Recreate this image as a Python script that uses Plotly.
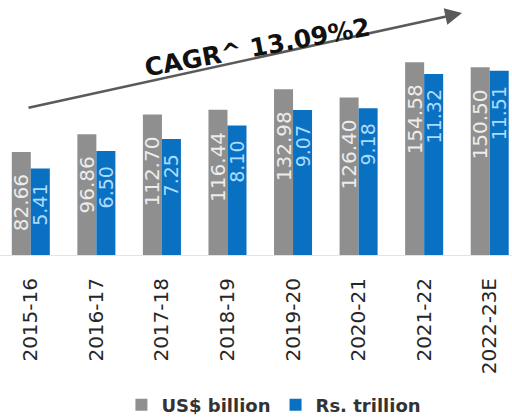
import plotly.graph_objects as go

categories = ["2015-16", "2016-17", "2017-18", "2018-19", "2019-20", "2020-21", "2021-22", "2022-23E"]
usd_billion = [82.66, 96.86, 112.70, 116.44, 132.98, 126.40, 154.58, 150.50]
rs_trillion = [5.41, 6.50, 7.25, 8.10, 9.07, 9.18, 11.32, 11.51]
cagr_text = "CAGR^ 13.09%2"

NB = "\u00a0"
gray = "#8f8f8f"
blue = "#0a70c2"

fig = go.Figure()
fig.add_trace(go.Bar(
    x=categories, y=usd_billion, name="US$ billion",
    marker=dict(color=gray, line=dict(width=0)),
    width=0.29, offset=-0.29,
    text=[f"{v:.2f}" + NB * 3 for v in usd_billion],
    textposition="inside", insidetextanchor="end", textangle=-90,
    constraintext="none",
    insidetextfont=dict(family="DejaVu Sans", size=20, color="#ececec"),
    yaxis="y", cliponaxis=False,
))
fig.add_trace(go.Bar(
    x=categories, y=rs_trillion, name="Rs. trillion",
    marker=dict(color=blue, line=dict(width=0)),
    width=0.29, offset=0.0,
    text=[f"{v:.2f}" + NB * 2 for v in rs_trillion],
    textposition="inside", insidetextanchor="end", textangle=-90,
    constraintext="none",
    insidetextfont=dict(family="DejaVu Sans", size=19, color="#a9dcff"),
    yaxis="y2", cliponaxis=False,
))

# growth arrow
fig.add_annotation(
    xref="paper", yref="paper", x=462 / 512, y=(255 - 13) / 235,
    ax=-435, ay=95, axref="pixel", ayref="pixel",
    text="", showarrow=True, arrowhead=2, arrowsize=1.3, arrowwidth=2.6,
    arrowcolor="#5a5a5a", standoff=0, startstandoff=0,
)
fig.add_annotation(
    xref="paper", yref="paper", x=257 / 512, y=(255 - 47) / 235,
    xanchor="center", yanchor="middle",
    text=f"<b>{cagr_text}</b>", showarrow=False, textangle=-10.5,
    font=dict(family="DejaVu Sans", size=25, color="#111111"),
)

fig.update_layout(
    width=512, height=418,
    margin=dict(l=0, r=0, t=20, b=163),
    paper_bgcolor="white", plot_bgcolor="white",
    barmode="overlay",
    showlegend=True,
    legend=dict(
        orientation="h", xref="container", yref="container",
        x=0.535, y=0.031, xanchor="center", yanchor="middle",
        font=dict(family="DejaVu Sans", size=18, color="#333333", weight="bold"),
        itemwidth=30, tracegroupgap=0, traceorder="normal",
    ),
    xaxis=dict(
        type="category", range=[-0.47, 7.34],
        tickangle=-90, ticks="", showgrid=False,
        showline=True, linecolor="#e3e3e3", linewidth=1,
        tickfont=dict(family="DejaVu Sans", size=20, color="#262626"),
        ticklabelstandoff=14,
    ),
    yaxis=dict(range=[0, 188.5], visible=False, showgrid=False, zeroline=False),
    yaxis2=dict(range=[0, 14.69], visible=False, showgrid=False, zeroline=False,
                overlaying="y", side="right"),
)

fig.write_html(
    "out.html",
    config={"displayModeBar": False},
    post_script="document.body.style.margin='0';document.body.style.padding='0';",
)
